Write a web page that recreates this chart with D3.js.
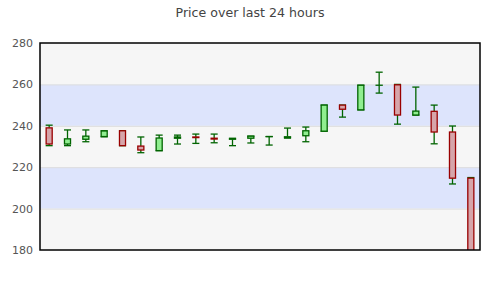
<!DOCTYPE html>
<html><head><meta charset="utf-8">
<script src="https://cdn.jsdelivr.net/npm/d3@7"></script>
<style>body{margin:0;background:#fff}svg{display:block}</style>
</head><body>
<svg id="c" width="500" height="300"></svg>
<script>
const hours = d3.range(1, 25).map(String);
const openV  = [239.0,231.2,233.5,234.8,237.6,230.2,228.0,234.0,234.6,234.0,233.5,234.0,234.8,234.2,235.2,237.4,250.0,247.7,259.6,259.8,245.2,247.0,237.0,214.7];
const highV  = [240.3,238.0,238.0,237.6,237.6,234.6,235.5,235.5,236.0,236.0,233.9,235.0,234.8,238.9,239.4,250.0,250.0,259.6,265.9,260.0,258.7,250.0,239.9,215.0];
const lowV   = [230.4,230.4,232.3,234.7,230.4,227.0,228.0,231.2,231.5,231.8,230.4,231.7,230.7,234.1,232.3,237.4,244.2,247.7,255.8,240.8,245.2,231.3,211.9,170.0];
const closeV = [231.2,233.7,235.0,237.5,230.4,228.3,234.1,234.6,234.3,233.6,233.9,235.0,234.8,234.7,237.6,250.0,248.0,259.6,259.6,245.2,247.1,237.0,214.7,175.0];
const yTicks = [180,200,220,240,260,280];
const title = "Price over last 24 hours";

const svg = d3.select("#c");
const L = 40, R = 480, T = 43, B = 250;
const x = d3.scaleBand().domain(hours).range([L, R]).paddingInner(0.67).paddingOuter(0.335);
const y = d3.scaleLinear().domain([180, 280]).range([B, T]);

svg.append("text").attr("x", 250).attr("y", 17).attr("text-anchor", "middle")
  .attr("font-family", "DejaVu Sans").attr("font-size", 12.6).attr("fill", "#444").text(title);

// bands
const bands = d3.pairs(yTicks);
svg.append("g").selectAll("rect").data(bands).join("rect")
  .attr("x", L).attr("width", R - L)
  .attr("y", d => y(d[1])).attr("height", d => y(d[0]) - y(d[1]))
  .attr("fill", (d, i) => i % 2 === 0 ? "#f6f6f6" : "#dde4fc");
svg.append("g").selectAll("line").data(yTicks.slice(1, -1)).join("line")
  .attr("x1", L).attr("x2", R).attr("y1", d => y(d) + 0.5).attr("y2", d => y(d) + 0.5)
  .attr("stroke", "#dddddd").attr("stroke-width", 1);

// axis
const ax = svg.append("g").attr("transform", `translate(${L},0)`)
  .call(d3.axisLeft(y).tickValues(yTicks).tickSize(0).tickPadding(7));
ax.select(".domain").remove();
ax.selectAll("text").attr("font-family", "DejaVu Sans").attr("font-size", 11).attr("fill", "#555");

svg.append("clipPath").attr("id", "clip").append("rect").attr("x", L).attr("y", T).attr("width", R - L).attr("height", B - T);

const data = hours.map((h, i) => ({h, o: openV[i], hi: highV[i], lo: lowV[i], c: closeV[i]}));
const g = svg.append("g").attr("clip-path", "url(#clip)");
const bw = x.bandwidth();
const cg = g.selectAll("g").data(data).join("g").attr("transform", d => `translate(${x(d.h)},0)`);
const wick = "#006400";
cg.append("line").attr("x1", bw/2).attr("x2", bw/2)
  .attr("y1", d => y(d.hi)).attr("y2", d => y(Math.max(d.o, d.c))).attr("stroke", wick).attr("stroke-width", 1.3);
cg.append("line").attr("x1", bw/2).attr("x2", bw/2)
  .attr("y1", d => y(d.lo)).attr("y2", d => y(Math.min(d.o, d.c))).attr("stroke", wick).attr("stroke-width", 1.3);
cg.append("line").attr("x1", -0.5).attr("x2", bw + 0.5).attr("y1", d => y(d.hi)).attr("y2", d => y(d.hi)).attr("stroke", wick).attr("stroke-width", 1.3);
cg.append("line").attr("x1", -0.5).attr("x2", bw + 0.5).attr("y1", d => y(d.lo)).attr("y2", d => y(d.lo)).attr("stroke", wick).attr("stroke-width", 1.3);
cg.append("rect").attr("x", 0).attr("width", bw)
  .attr("y", d => y(Math.max(d.o, d.c)))
  .attr("height", d => Math.max(0.01, Math.abs(y(d.o) - y(d.c))))
  .attr("fill", d => d.c >= d.o ? "#90ee90" : "#d6a5aa")
  .attr("stroke", d => d.c >= d.o ? "#006400" : "#990000")
  .attr("stroke-width", 1.3);

svg.append("rect").attr("x", L).attr("y", T).attr("width", R - L).attr("height", B - T)
  .attr("fill", "none").attr("stroke", "#000").attr("stroke-width", 1.5);
</script>
</body></html>
